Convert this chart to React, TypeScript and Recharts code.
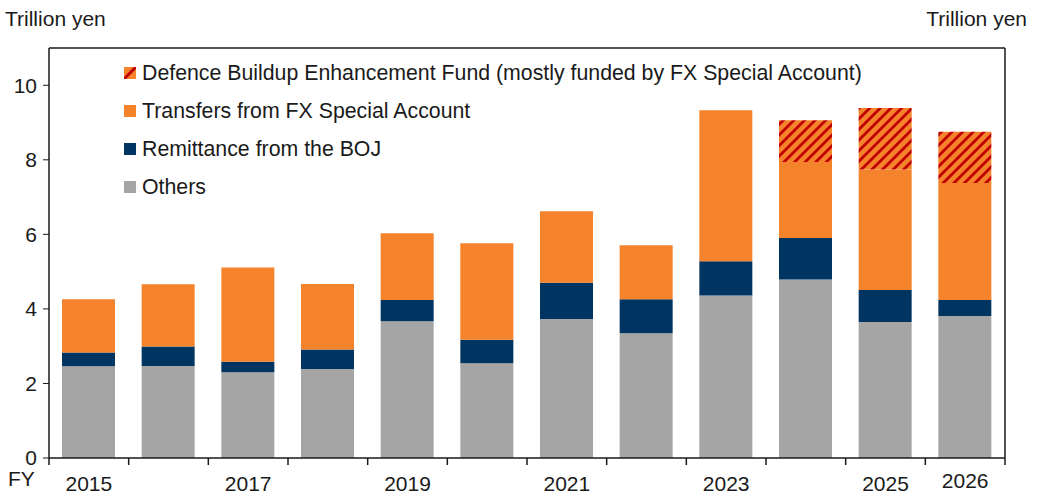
import React from "react";
import { Bar, BarChart, ReferenceLine, XAxis, YAxis } from "recharts";

const YEARS = ["2015", "2016", "2017", "2018", "2019", "2020", "2021", "2022", "2023", "2024", "2025", "2026"];
const OTHERS = [2.46, 2.47, 2.3, 2.39, 3.67, 2.54, 3.73, 3.35, 4.36, 4.79, 3.65, 3.81];
const BOJ = [0.37, 0.52, 0.28, 0.52, 0.57, 0.63, 0.97, 0.91, 0.92, 1.11, 0.86, 0.43];
const FX = [1.43, 1.67, 2.53, 1.76, 1.79, 2.59, 1.92, 1.45, 4.05, 2.04, 3.23, 3.14];
const DEFENCE = [0, 0, 0, 0, 0, 0, 0, 0, 0, 1.12, 1.65, 1.37];
const SHOWN_YEARS = ["2015", "2017", "2019", "2021", "2023", "2025", "2026"];
const Y_TICKS = [0, 2, 4, 6, 8, 10];

const GREY = "#a5a5a5";
const NAVY = "#003562";
const ORANGE = "#f5832b";
const RED = "#c00000";
const INK = "#1a1a1a";
const FONT = "'Liberation Sans', Arial, sans-serif";
const FS = 21;

const data = YEARS.map((y, i) => ({
  year: y,
  others: OTHERS[i],
  boj: BOJ[i],
  fx: FX[i],
  defence: DEFENCE[i],
}));

const legendItems = [
  { key: "defence", label: "Defence Buildup Enhancement Fund (mostly funded by FX Special Account)" },
  { key: "fx", label: "Transfers from FX Special Account", color: ORANGE },
  { key: "boj", label: "Remittance from the BOJ", color: NAVY },
  { key: "others", label: "Others", color: GREY },
];

function LegendBox() {
  return (
    <div style={{ fontFamily: FONT, fontSize: 21.3, color: INK }}>
      {legendItems.map((it) => (
        <div key={it.key} style={{ display: "flex", alignItems: "center", height: 38 }}>
          <svg width={12} height={12} style={{ marginRight: 6 }}>
            {it.color ? (
              <rect width={12} height={12} fill={it.color} />
            ) : (
              <>
                <rect width={12} height={12} fill={ORANGE} />
                <line x1={0} y1={12} x2={12} y2={0} stroke={RED} strokeWidth={3} />
              </>
            )}
          </svg>
          <span>{it.label}</span>
        </div>
      ))}
    </div>
  );
}

// tick marks sit on category boundaries, labels only on some years
function XTick(props: any) {
  const { x, y, payload, index } = props;
  const band = 956 / YEARS.length;
  const left = x - band / 2;
  const last = index === YEARS.length - 1;
  return (
    <g>
      <line x1={left} y1={y - 8} x2={left} y2={y - 1} stroke={INK} strokeWidth={1.5} />
      {last && <line x1={left + band} y1={y - 8} x2={left + band} y2={y - 1} stroke={INK} strokeWidth={1.5} />}
      {SHOWN_YEARS.includes(payload.value) && (
        <text
          x={x}
          y={last ? y + 22 : y + 25}
          textAnchor="middle"
          fontFamily={FONT}
          fontSize={FS}
          fill={INK}
        >
          {payload.value}
        </text>
      )}
    </g>
  );
}

export default function App() {
  const tick = { fill: INK, fontSize: FS, fontFamily: FONT };
  return (
    <div style={{ position: "fixed", left: 0, top: 0, width: 1043, height: 499, background: "#fff" }}>
      <div style={{ position: "absolute", left: 5, top: 7, fontFamily: FONT, fontSize: FS, color: INK }}>
        Trillion yen
      </div>
      <div style={{ position: "absolute", right: 16, top: 7, fontFamily: FONT, fontSize: FS, color: INK }}>
        Trillion yen
      </div>
      <div style={{ position: "absolute", left: 8, top: 468, fontFamily: FONT, fontSize: FS, color: INK, lineHeight: "22px" }}>
        FY
      </div>
      <BarChart
        width={1043}
        height={499}
        data={data}
        margin={{ top: 48, right: 0, left: 0, bottom: 0 }}
        barSize={53}
      >
        <defs>
          <pattern id="hatch" patternUnits="userSpaceOnUse" width={7.5} height={7.5} patternTransform="rotate(45)">
            <rect width={7.5} height={7.5} fill={ORANGE} />
            <rect width={2.8} height={7.5} fill={RED} />
          </pattern>
        </defs>
        <XAxis
          dataKey="year"
          height={41}
          interval={0}
          axisLine={{ stroke: INK, strokeWidth: 1.5 }}
          tickLine={false}
          tick={<XTick />}
        />
        <YAxis
          yAxisId="left"
          width={49}
          domain={[0, 11]}
          ticks={Y_TICKS}
          interval={0}
          tick={tick}
          tickSize={6}
          tickMargin={6}
          axisLine={{ stroke: INK, strokeWidth: 1.5 }}
          tickLine={{ stroke: INK }}
        />
        <YAxis
          yAxisId="right"
          orientation="right"
          width={38}
          domain={[0, 11]}
          ticks={Y_TICKS}
          interval={0}
          tick={tick}
          tickSize={6}
          tickMargin={3}
          axisLine={{ stroke: INK, strokeWidth: 1.5 }}
          tickLine={{ stroke: INK }}
        />
        <ReferenceLine yAxisId="left" y={11} stroke={INK} strokeWidth={1.5} />
        <Bar yAxisId="left" dataKey="others" stackId="a" fill={GREY} isAnimationActive={false} />
        <Bar yAxisId="left" dataKey="boj" stackId="a" fill={NAVY} isAnimationActive={false} />
        <Bar yAxisId="left" dataKey="fx" stackId="a" fill={ORANGE} isAnimationActive={false} />
        <Bar yAxisId="left" dataKey="defence" stackId="a" fill="url(#hatch)" isAnimationActive={false} />
      </BarChart>
      <div style={{ position: "absolute", left: 124, top: 54 }}>
        <LegendBox />
      </div>
    </div>
  );
}
